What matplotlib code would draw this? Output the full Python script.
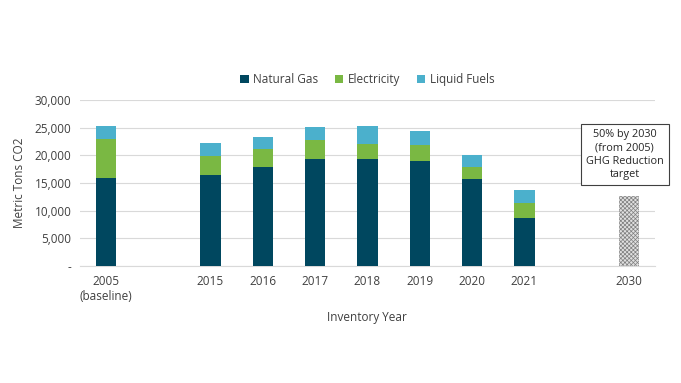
import numpy as np
from matplotlib import pyplot as plt

## categories (blank slots keep the gaps between 2005 / 2015 and 2021 / 2030)
years = ['2005\n(baseline)', '', '2015', '2016', '2017', '2018', '2019', '2020', '2021', '', '2030']

natural_gas = [15900, 0, 16500, 17950, 19400, 19400, 18980, 15720, 8740, 0, 0]
electricity = [7050, 0, 3440, 3140, 3370, 2710, 2830, 2170, 2590, 0, 0]
liquid_fuels = [2350, 0, 2290, 2280, 2290, 3190, 2530, 2230, 2340, 0, 0]
target_2030 = [0, 0, 0, 0, 0, 0, 0, 0, 0, 0, 12650]

yticks = [0, 5000, 10000, 15000, 20000, 25000, 30000]
ytick_labels = ['-', '5,000', '10,000', '15,000', '20,000', '25,000', '30,000']

plt.rcParams['font.family'] = ['Open Sans', 'DejaVu Sans']

fig = plt.figure(figsize=(6.81, 3.83), dpi=100)
ax = fig.add_axes([0.117, 0.305, 0.845, 0.434])

x = np.arange(len(years))
w = 0.39
ng = np.array(natural_gas)
el = np.array(electricity)
lf = np.array(liquid_fuels)

ax.bar(x, ng, w, color='#00475F', label='Natural Gas', zorder=3)
ax.bar(x, el, w, bottom=ng, color='#7AB843', label='Electricity', zorder=3)
ax.bar(x, lf, w, bottom=ng + el, color='#4BB0CC', label='Liquid Fuels', zorder=3)

## 2030 target bar, grey cross-hatched
plt.rcParams['hatch.linewidth'] = 0.5
ax.bar(x, target_2030, w, color='#E0E0E0', edgecolor='#7F7F7F', hatch='xxxxxxxx', linewidth=0, zorder=3)

ax.set_xlim(-0.5, len(years) - 0.5)
ax.set_ylim(0, 30000)
ax.set_yticks(yticks)
ax.set_yticklabels(ytick_labels, fontsize=8.5, color='#404040')
ax.set_xticks(x)
ax.set_xticklabels(years, fontsize=8.5, color='#404040', linespacing=1.2)
ax.tick_params(axis='both', length=0, pad=6)
ax.grid(axis='y', color='#D9D9D9', linewidth=0.8, zorder=0)
for s in ['top', 'right', 'left']:
    ax.spines[s].set_visible(False)
ax.spines['bottom'].set_color('#D9D9D9')

ax.set_ylabel('Metric Tons CO2', fontsize=8.5, color='#404040', labelpad=6)
ax.set_xlabel('Inventory Year', fontsize=8.5, color='#404040', labelpad=6)

ax.legend(loc='lower center', bbox_to_anchor=(0.5, 1.02), ncol=3, frameon=False,
          fontsize=8.5, handlelength=0.7, handleheight=0.7, handletextpad=0.4,
          columnspacing=1.4, labelcolor='#404040')

ax.text(9.92, 20150, '50% by 2030\n(from 2005)\nGHG Reduction\ntarget', ha='center', va='center',
        fontsize=7.8, color='#262626', linespacing=1.3, zorder=4,
        bbox=dict(boxstyle='square,pad=0.45', facecolor='white', edgecolor='#404040', linewidth=0.8))

fig.savefig('out.png', dpi=100)
